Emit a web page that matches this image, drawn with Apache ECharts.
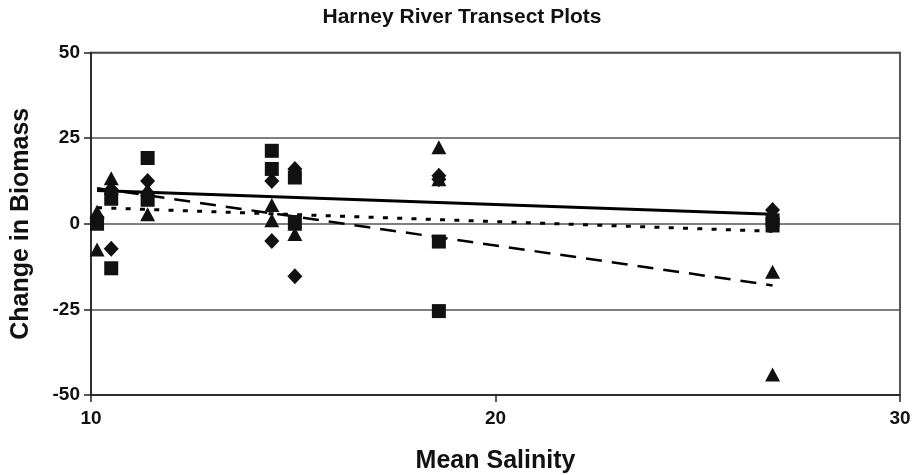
<!DOCTYPE html>
<html>
<head>
<meta charset="utf-8">
<script src="https://cdn.jsdelivr.net/npm/echarts@6/dist/echarts.min.js"></script>
<style>html,body{margin:0;padding:0;background:#fff}#c{width:915px;height:475px}</style>
</head>
<body>
<div id="c"></div>
<script>
const titleText = "Harney River Transect Plots";
const xName = "Mean Salinity";
const yName = "Change in Biomass";
const xTicks = [10, 20, 30];
const yTicks = [-50, -25, 0, 25, 50];

const diamonds = [[10.15, 2], [10.5, -7.3], [10.5, 10], [11.4, 12.5], [11.4, 9],
  [14.47, 12.5], [14.47, -5], [15.04, 16], [15.04, -15.3], [18.6, 14], [18.6, 13],
  [26.85, 4], [26.85, 1.5]];
const squares = [[10.15, 0], [10.5, -13], [10.5, 7.3], [11.4, 19.2], [11.4, 7],
  [14.47, 21.3], [14.47, 16], [15.04, 13.5], [15.04, 0.5], [18.6, -5.2], [18.6, -25.5],
  [26.85, 1], [26.85, -0.5]];
const triangles = [[10.15, 3.5], [10.15, -7.5], [10.5, 13.3], [10.5, 10.5], [11.4, 10],
  [11.4, 2.8], [14.47, 5.5], [14.47, 1], [15.04, 0], [15.04, -3], [18.6, 22.3], [18.6, 13],
  [26.85, -14], [26.85, -44]];

const trendSolid = [[10.15, 9.7], [26.85, 2.8]];
const trendDashed = [[10.15, 10.4], [26.85, -18.0]];
const trendDotted = [[10.15, 4.7], [26.85, -2.2]];

const chart = echarts.init(document.getElementById('c'), null, {renderer: 'canvas'});
const FONT = 'Liberation Sans, Arial, sans-serif';
const lineSeries = (data, type, width) => ({
  type: 'line', data: data, symbol: 'none', silent: true, z: 3,
  lineStyle: {color: '#000', width: width, type: type}
});
const scatter = (data, symbol, size) => ({
  type: 'scatter', data: data, symbol: symbol, symbolSize: size, z: 4,
  itemStyle: {color: '#111', opacity: 1}
});
chart.setOption({
  animation: false,
  backgroundColor: '#fff',
  title: {
    text: titleText, left: 457, top: 2, textAlign: 'center',
    textStyle: {fontFamily: FONT, fontWeight: 'bold', fontSize: 21, color: '#111'}
  },
  grid: {left: 91, right: 15, top: 52.5, bottom: 80, containLabel: false, outerBoundsMode: 'none',
    show: true, borderColor: '#222', borderWidth: 1.5, backgroundColor: 'transparent'},
  xAxis: {
    type: 'value', min: xTicks[0], max: xTicks[xTicks.length - 1], interval: 10,
    name: xName, nameLocation: 'middle', nameGap: 54,
    nameTextStyle: {fontFamily: FONT, fontWeight: 'bold', fontSize: 25, color: '#111'},
    axisLine: {onZero: false, lineStyle: {color: '#222', width: 1.5}},
    axisTick: {show: true, inside: false, length: 7, lineStyle: {color: '#222', width: 1.5}},
    axisLabel: {fontFamily: FONT, fontWeight: 'bold', fontSize: 19, color: '#111', margin: 14},
    splitLine: {show: false}
  },
  yAxis: {
    type: 'value', min: yTicks[0], max: yTicks[yTicks.length - 1], interval: 25,
    name: yName, nameLocation: 'middle', nameGap: 57, nameRotate: 90,
    nameTextStyle: {fontFamily: FONT, fontWeight: 'bold', fontSize: 25, color: '#111'},
    axisLine: {show: true, onZero: false, lineStyle: {color: '#222', width: 1.5}},
    axisTick: {show: true, inside: false, length: 7, lineStyle: {color: '#222', width: 1.5}},
    axisLabel: {fontFamily: FONT, fontWeight: 'bold', fontSize: 19, color: '#111', margin: 11},
    splitLine: {show: true, lineStyle: {color: '#555', width: 1.5}}
  },
  series: [
    lineSeries(trendSolid, 'solid', 3),
    lineSeries(trendDashed, [16, 10], 2.5),
    lineSeries(trendDotted, [5, 9.3], 3),
    scatter(diamonds, 'diamond', [15, 16]),
    scatter(squares, 'rect', 14),
    scatter(triangles, 'triangle', [15, 14])
  ]
});
</script>
</body>
</html>
